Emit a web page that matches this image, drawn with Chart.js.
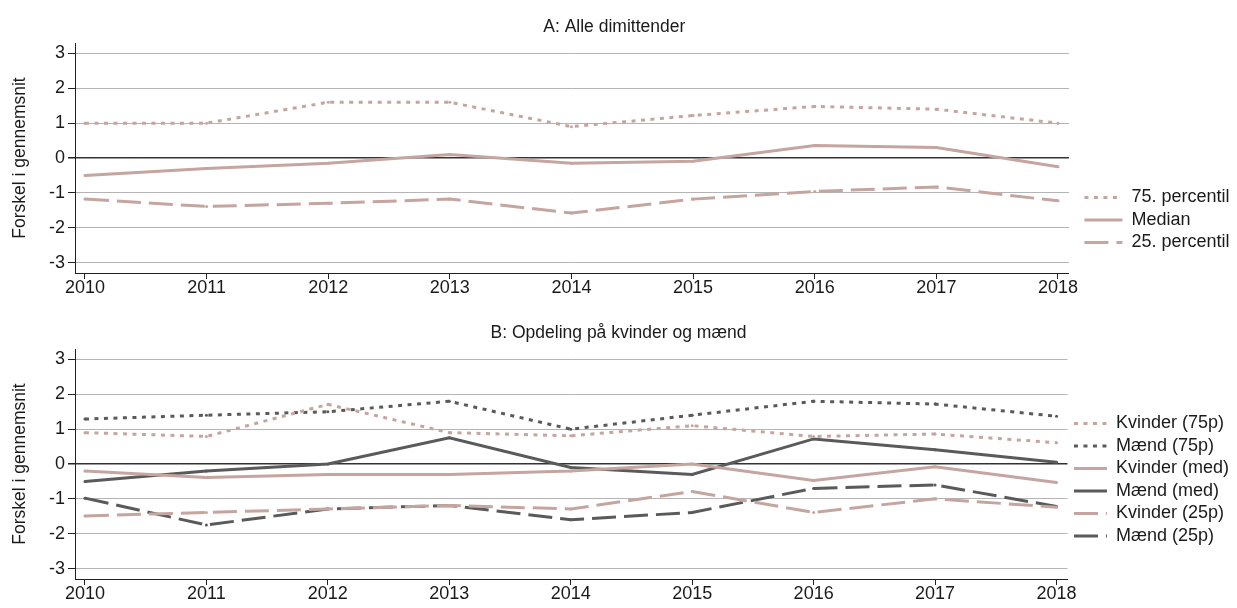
<!DOCTYPE html>
<html>
<head>
<meta charset="utf-8">
<script src="https://cdn.jsdelivr.net/npm/chart.js@4"></script>
<style>
  body { margin: 0; background: #fff; }
  .panel { position: absolute; left: 0; width: 1237px; height: 300px; }
</style>
</head>
<body>
<div class="panel" style="top:0px"><canvas id="chartA" width="1237" height="300"></canvas></div>
<div class="panel" style="top:306px"><canvas id="chartB" width="1237" height="300"></canvas></div>
<script>
// years and tick values
const years = [2010, 2011, 2012, 2013, 2014, 2015, 2016, 2017, 2018];
const yTicks = [-3, -2, -1, 0, 1, 2, 3];

// A: Alle dimittender
const alle75 = [1.0, 1.0, 1.6, 1.6, 0.9, 1.22, 1.48, 1.4, 1.0];
const alleMedian = [-0.5, -0.3, -0.15, 0.1, -0.15, -0.09, 0.36, 0.3, -0.25];
const alle25 = [-1.18, -1.39, -1.3, -1.18, -1.58, -1.18, -0.96, -0.83, -1.23];

// B: Opdeling på kvinder og mænd
const kvinder75 = [0.9, 0.79, 1.71, 0.9, 0.81, 1.1, 0.79, 0.86, 0.61];
const maend75 = [1.29, 1.4, 1.5, 1.8, 1.0, 1.4, 1.8, 1.72, 1.37];
const kvinderMed = [-0.2, -0.39, -0.3, -0.3, -0.2, 0.0, -0.47, -0.08, -0.53];
const maendMed = [-0.5, -0.2, 0.0, 0.75, -0.1, -0.3, 0.72, 0.41, 0.05];
const kvinder25 = [-1.49, -1.39, -1.29, -1.19, -1.29, -0.79, -1.39, -1.0, -1.24];
const maend25 = [-0.98, -1.75, -1.29, -1.19, -1.6, -1.39, -0.7, -0.6, -1.22];

const pink = 'rgb(196, 165, 160)';
const dark = 'rgb(90, 90, 90)';
const dotted = [4, 5.5];
const dashed = [24, 8];
const fontFamily = '"Liberation Sans", Arial, sans-serif';

Chart.defaults.font.family = fontFamily;
Chart.defaults.color = '#1a1a1a';

function series(label, values, color, dash) {
    return {
        label: label,
        data: years.map((yr, i) => ({ x: yr, y: values[i] })),
        borderColor: color,
        backgroundColor: color,
        borderWidth: 3,
        borderDash: dash,
        pointRadius: 1.5,
        pointBorderWidth: 0,
        tension: 0
    };
}

// legend items: short line samples with the dataset's dash pattern
function legendLabels(chart) {
    return chart.data.datasets.map((ds, i) => ({
        text: ds.label,
        datasetIndex: i,
        strokeStyle: ds.borderColor,
        fillStyle: ds.borderColor,
        lineWidth: 3,
        lineDash: ds.borderDash,
        lineCap: 'butt',
        pointStyle: 'line',
        hidden: false
    }));
}

// moves the legend block sideways without touching the plot area
const legendShift = {
    id: 'legendShift',
    afterLayout: function(chart, args, opts) {
        chart.legend.left += opts.dx;
        chart.legend.right += opts.dx;
    }
};

function makeConfig(title, datasets, legendWidth, legendTop, padRight, dx) {
    return {
        type: 'line',
        data: { datasets: datasets },
        plugins: [legendShift],
        options: {
            responsive: false,
            animation: false,
            devicePixelRatio: 1,
            layout: { padding: { left: 0, right: padRight, top: 0, bottom: 0 } },
            plugins: {
                legendShift: { dx: dx },
                title: {
                    display: true,
                    text: title,
                    color: '#1a1a1a',
                    font: { size: 17.5, weight: 'normal' },
                    padding: { top: 16.5, bottom: 5.5 }
                },
                legend: {
                    position: 'right',
                    title: { display: true, text: '', font: { size: 10 }, padding: { top: legendTop, bottom: 0 } },
                    labels: {
                        usePointStyle: true,
                        pointStyle: 'line',
                        pointStyleWidth: legendWidth,
                        padding: 4.5,
                        color: '#1a1a1a',
                        font: { size: 18 },
                        generateLabels: legendLabels
                    }
                },
                tooltip: { enabled: false }
            },
            scales: {
                x: {
                    type: 'linear',
                    min: 2009.918,
                    max: 2018.09,
                    afterBuildTicks: function(scale) {
                        scale.ticks = years.map(v => ({ value: v }));
                    },
                    afterFit: function(scale) {
                        scale.height = 27;
                    },
                    ticks: {
                        padding: -2,
                        color: '#1a1a1a',
                        font: { size: 18 },
                        maxRotation: 0,
                        callback: function(value) { return String(value); }
                    },
                    grid: {
                        drawOnChartArea: false,
                        drawTicks: true,
                        tickLength: 6,
                        tickColor: '#222'
                    },
                    border: { display: true, color: '#222', width: 1 }
                },
                y: {
                    min: -3.3,
                    max: 3.3,
                    afterBuildTicks: function(scale) {
                        scale.ticks = yTicks.map(v => ({ value: v }));
                    },
                    afterFit: function(scale) {
                        scale.width = 75;
                    },
                    title: {
                        display: true,
                        text: 'Forskel i gennemsnit',
                        color: '#1a1a1a',
                        font: { size: 17.5 },
                        padding: { top: 9.5, bottom: 0 }
                    },
                    ticks: {
                        padding: 3,
                        color: '#1a1a1a',
                        font: { size: 18 },
                        callback: function(value) { return String(value); }
                    },
                    grid: {
                        color: function(ctx) {
                            return ctx.tick && ctx.tick.value === 0 ? '#333' : '#b4b4b4';
                        },
                        lineWidth: function(ctx) {
                            return ctx.tick && ctx.tick.value === 0 ? 1.5 : 1;
                        },
                        tickLength: 7,
                        tickColor: '#222'
                    },
                    border: { display: true, color: '#222', width: 1 }
                }
            }
        }
    };
}

var chartA = new Chart(
    document.getElementById('chartA'),
    makeConfig('A: Alle dimittender', [
        series('75. percentil', alle75, pink, dotted),
        series('Median', alleMedian, pink, []),
        series('25. percentil', alle25, pink, dashed)
    ], 38, 128, 8.5, 11)
);

var chartB = new Chart(
    document.getElementById('chartB'),
    makeConfig('B: Opdeling på kvinder og mænd', [
        series('Kvinder (75p)', kvinder75, pink, dotted),
        series('Mænd (75p)', maend75, dark, dotted),
        series('Kvinder (med)', kvinderMed, pink, []),
        series('Mænd (med)', maendMed, dark, []),
        series('Kvinder (25p)', kvinder25, pink, dashed),
        series('Mænd (25p)', maend25, dark, dashed)
    ], 33, 35.5, 0, 2)
);
</script>
</body>
</html>
